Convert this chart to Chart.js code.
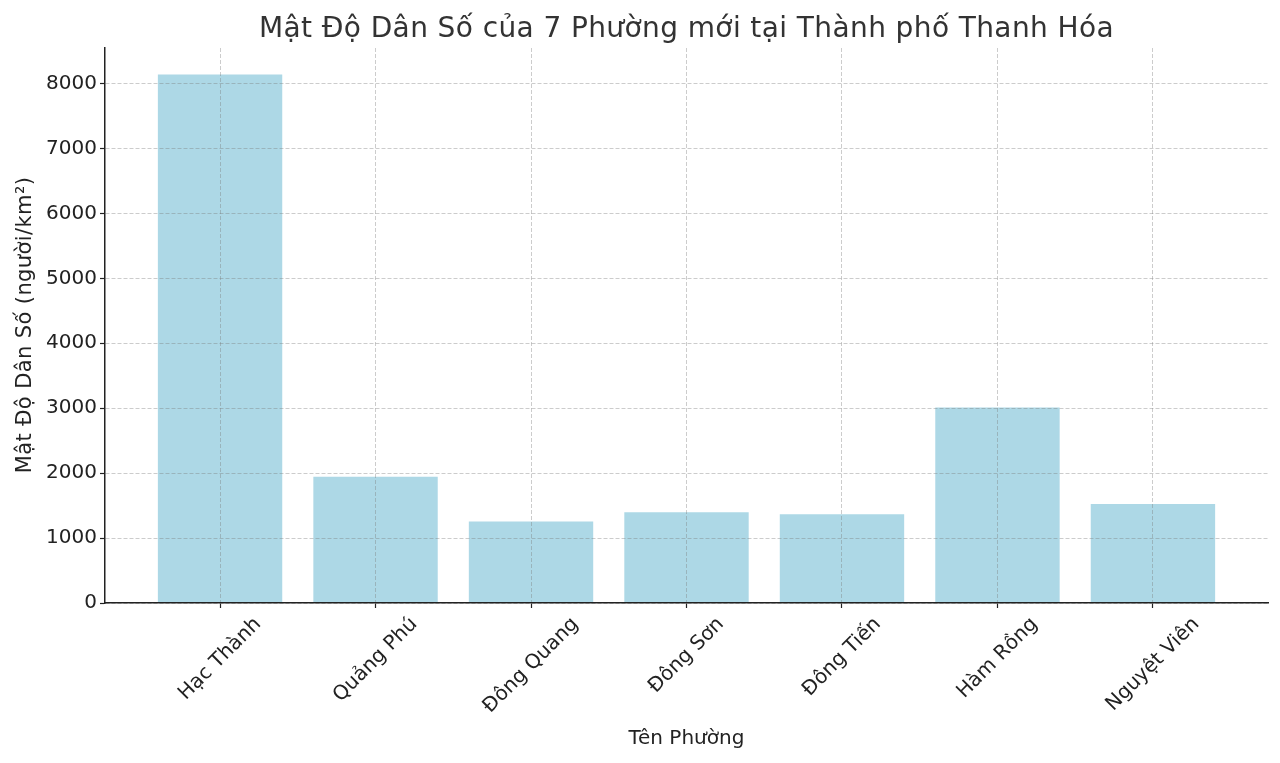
<!DOCTYPE html>
<html>
<head>
<meta charset="utf-8">
<script src="https://cdn.jsdelivr.net/npm/chart.js@4.4.1/dist/chart.umd.min.js"></script>
<style>
html,body{margin:0;padding:0;background:#fff;}
#wrap{width:1280px;height:763px;}
</style>
</head>
<body>
<div id="wrap"><canvas id="c" width="1280" height="763"></canvas></div>
<script>
const categories = ['Hạc Thành', 'Quảng Phú', 'Đông Quang', 'Đông Sơn', 'Đông Tiến', 'Hàm Rồng', 'Nguyệt Viên'];
const densities = [8140, 1943, 1254, 1398, 1367, 3010, 1526];
const yTickValues = [0, 1000, 2000, 3000, 4000, 5000, 6000, 7000, 8000];
const chartTitle = 'Mật Độ Dân Số của 7 Phường mới tại Thành phố Thanh Hóa';
const xAxisTitle = 'Tên Phường';
const yAxisTitle = 'Mật Độ Dân Số (người/km²)';

const FONT = '"DejaVu Sans", "Noto Sans", sans-serif';
const gridColor = 'rgba(120,120,120,0.38)';
const axisColor = '#222';

const textPlugin = {
  id: 'textPlugin',
  afterDraw(chart) {
    const ctx = chart.ctx;
    const area = chart.chartArea;
    const xs = chart.scales.x;
    ctx.save();
    // chart title
    ctx.fillStyle = '#333';
    ctx.font = '28px ' + FONT;
    ctx.letterSpacing = '0.4px';
    ctx.textAlign = 'center';
    ctx.textBaseline = 'alphabetic';
    ctx.fillText(chartTitle, (area.left + area.right) / 2, 37);
    // y axis title
    ctx.font = '21px ' + FONT;
    ctx.letterSpacing = '0.4px';
    ctx.fillStyle = '#222';
    ctx.save();
    ctx.translate(31, 325);
    ctx.rotate(-Math.PI / 2);
    ctx.fillText(yAxisTitle, 0, 0);
    ctx.restore();
    // x tick labels, rotated 45°, centred on the tick
    ctx.letterSpacing = '0px';
    ctx.font = '20px ' + FONT;
    ctx.textBaseline = 'middle';
    categories.forEach((label, i) => {
      const px = xs.getPixelForValue(i);
      const w = ctx.measureText(label).width;
      const h = 23;
      const H = (w + h) * Math.SQRT1_2;
      const cy = area.bottom + 10 + H / 2;
      ctx.save();
      ctx.translate(px, cy);
      ctx.rotate(-Math.PI / 4);
      ctx.fillText(label, 0, 0);
      ctx.restore();
    });
    ctx.restore();
  }
};

new Chart(document.getElementById('c'), {
  type: 'bar',
  data: {
    datasets: [{
      data: categories.map((c, i) => ({ x: i, y: densities[i] })),
      backgroundColor: '#ADD8E6',
      borderWidth: 0,
      barPercentage: 0.8,
      categoryPercentage: 1.0
    }]
  },
  options: {
    responsive: false,
    animation: false,
    devicePixelRatio: 1,
    layout: { padding: { top: 48, right: 12, left: 0, bottom: 0 } },
    plugins: {
      legend: { display: false },
      title: { display: false },
      tooltip: { enabled: false }
    },
    scales: {
      x: {
        type: 'linear',
        offset: false,
        min: -0.74,
        max: 6.74,
        afterBuildTicks: s => { s.ticks = categories.map((c, i) => ({ value: i })); },
        afterFit: s => { s.height = 160; },
        ticks: { display: false },
        grid: {
          offset: false,
          color: gridColor, lineWidth: 1, z: 1,
          drawTicks: true, tickLength: 5, tickColor: axisColor, tickWidth: 1.2
        },
        border: { display: true, color: axisColor, width: 1.5, dash: [4, 2], z: 2 },
        title: {
          display: true, text: xAxisTitle, color: '#222',
          font: { family: FONT, size: 20 },
          padding: { top: 0, bottom: 12 }
        }
      },
      y: {
        min: 0,
        max: 8547,
        afterBuildTicks: s => { s.ticks = yTickValues.map(v => ({ value: v })); },
        afterFit: s => { s.width = 105; },
        ticks: {
          color: '#222',
          font: { family: FONT, size: 20 },
          padding: 3,
          callback: v => String(v)
        },
        grid: {
          color: gridColor, lineWidth: 1, z: 1,
          drawTicks: true, tickLength: 5, tickColor: axisColor, tickWidth: 1.2
        },
        border: { display: true, color: axisColor, width: 1.5, dash: [4, 2], z: 2 },
        title: { display: false }
      }
    }
  },
  plugins: [textPlugin]
});
</script>
</body>
</html>
